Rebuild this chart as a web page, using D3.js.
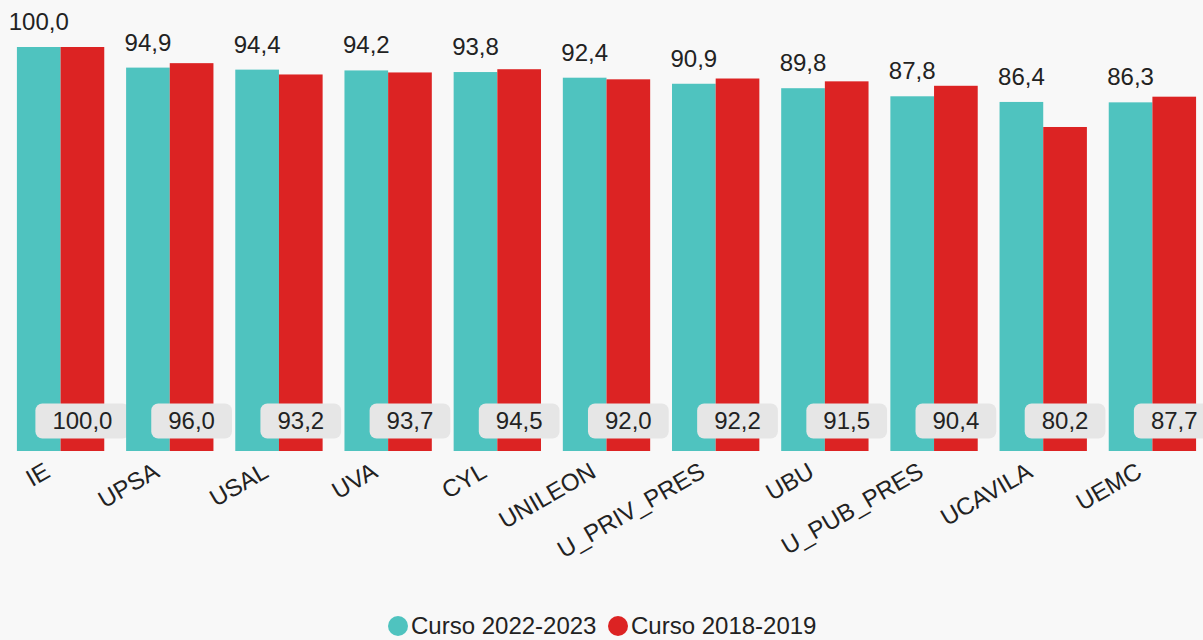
<!DOCTYPE html>
<html>
<head>
<meta charset="utf-8">
<script src="https://cdn.jsdelivr.net/npm/d3@7"></script>
<style>
  body { margin: 0; background: #f8f8f8; }
  svg { display: block; font-family: "Liberation Sans", Arial, sans-serif; }
</style>
</head>
<body>
<svg id="chart" width="1203" height="640"></svg>
<script>
// datos
const universidades = ['IE', 'UPSA', 'USAL', 'UVA', 'CYL', 'UNILEON', 'U_PRIV_PRES', 'UBU', 'U_PUB_PRES', 'UCAVILA', 'UEMC'];
const curso2223 = [100.0, 94.9, 94.4, 94.2, 93.8, 92.4, 90.9, 89.8, 87.8, 86.4, 86.3];
const curso1819 = [100.0, 96.0, 93.2, 93.7, 94.5, 92.0, 92.2, 91.5, 90.4, 80.2, 87.7];
const series = ['Curso 2022-2023', 'Curso 2018-2019'];
const colores = ['#4fc3bf', '#dc2323'];

const svg = d3.select('#chart');
const fmt = v => d3.format('.1f')(v).replace('.', ',');

const data = universidades.map((u, i) => ({ key: u, vals: [curso2223[i], curso1819[i]] }));

const x0 = d3.scaleBand()
  .domain(universidades)
  .range([6, 1207])
  .paddingInner(0.2)
  .paddingOuter(0.1);

const x1 = d3.scaleBand()
  .domain(series)
  .range([0, x0.bandwidth()]);

const y = d3.scaleLinear()
  .domain([0, 100])
  .range([451, 47]);

const g = svg.append('g');

const grupos = g.selectAll('.grupo')
  .data(data)
  .enter()
  .append('g')
    .attr('class', 'grupo')
    .attr('transform', d => `translate(${x0(d.key)},0)`);

grupos.selectAll('rect')
  .data(d => d.vals.map((v, j) => ({ s: series[j], v: v, j: j })))
  .enter()
  .append('rect')
    .attr('x', d => x1(d.s))
    .attr('y', d => y(d.v))
    .attr('width', x1.bandwidth())
    .attr('height', d => y(0) - y(d.v))
    .attr('fill', d => colores[d.j]);

// etiquetas arriba (serie 2022-2023)
grupos.append('text')
  .attr('x', x1(series[0]) + x1.bandwidth() / 2)
  .attr('y', d => y(d.vals[0]) - 17)
  .attr('text-anchor', 'middle')
  .attr('font-size', 24)
  .attr('fill', '#222')
  .text(d => fmt(d.vals[0]));

// etiquetas abajo en caja (serie 2018-2019)
const cajas = grupos.append('g')
  .attr('transform', `translate(${x1(series[1]) + x1.bandwidth() / 2}, 421)`);

cajas.append('text')
  .attr('text-anchor', 'middle')
  .attr('dy', '0.35em')
  .attr('font-size', 24)
  .attr('fill', '#222')
  .text(d => fmt(d.vals[1]));

cajas.each(function () {
  const gg = d3.select(this);
  const w = gg.select('text').node().getComputedTextLength();
  gg.insert('rect', 'text')
    .attr('x', -w / 2 - 17)
    .attr('y', -17.5)
    .attr('width', w + 34)
    .attr('height', 35)
    .attr('rx', 7)
    .attr('fill', '#e6e6e6');
});

// eje x
grupos.append('text')
  .attr('transform', d => `translate(${x0.bandwidth() / 2 - 9}, 476) rotate(-30)`)
  .attr('text-anchor', 'end')
  .attr('font-size', 24)
  .attr('fill', '#222')
  .text(d => d.key);

// leyenda
const leyenda = svg.append('g').attr('transform', 'translate(0, 626)');
const items = [{ x: 398, i: 0 }, { x: 618, i: 1 }];
items.forEach(it => {
  leyenda.append('circle')
    .attr('cx', it.x)
    .attr('cy', 0)
    .attr('r', 10)
    .attr('fill', colores[it.i]);
  leyenda.append('text')
    .attr('x', it.x + 13)
    .attr('y', 0)
    .attr('dy', '0.35em')
    .attr('font-size', 24)
    .attr('fill', '#222')
    .text(series[it.i]);
});
</script>
</body>
</html>
